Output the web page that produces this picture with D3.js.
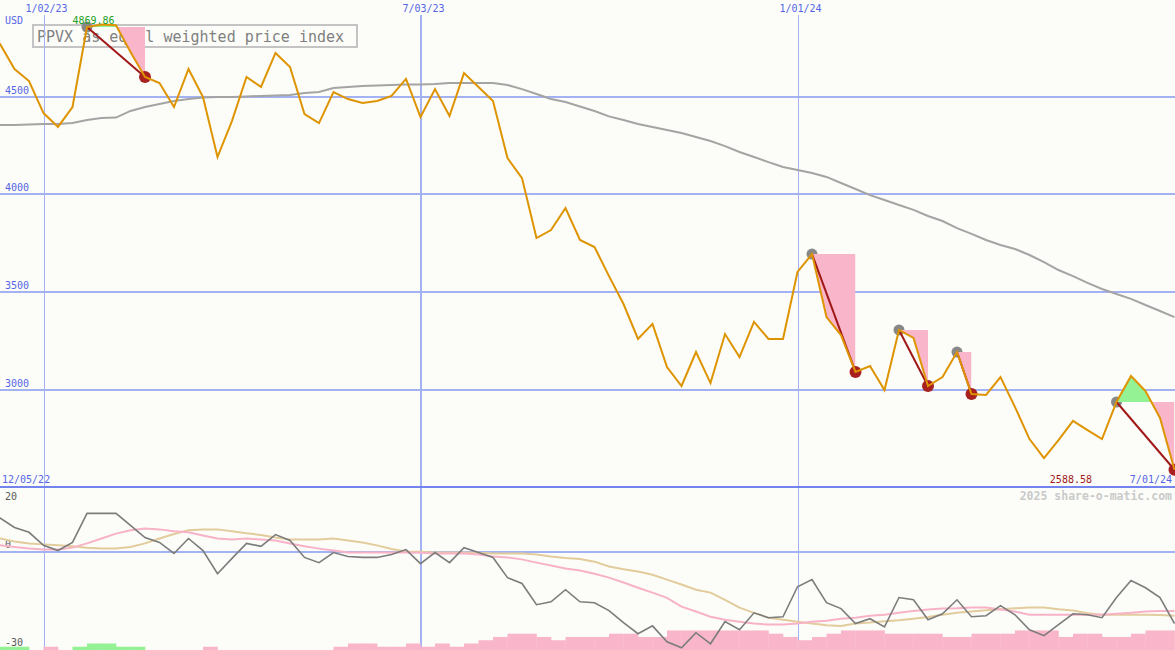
<!DOCTYPE html>
<html><head><meta charset="utf-8">
<script src="https://cdn.jsdelivr.net/npm/d3@7"></script>
<style>
html,body{margin:0;padding:0;background:#fcfdf9;overflow:hidden}
svg{display:block}
text{font-family:"DejaVu Sans Mono","Liberation Mono",monospace}
</style></head><body>
<svg id="c" width="1175" height="650"></svg>
<script>
// ---------- data ----------
const startDate = "2022-12-05";
const endDate = "2024-07-01";
const price = [4840,4770,4642,4580,4416,4345,4447,4857,4869.86,4866,
  4729,4601,4570,4447,4642,4498,4191,4376,4601,4550,
  4724,4652,4411,4365,4524,4488,4468,4478,4504,4591,
  4396,4539,4401,4621,4550,4478,4186,4083,3776,3817,
  3930,3766,3730,3581,3438,3259,3336,3115,3018,3192,
  3033,3284,3166,3346,3259,3259,3602,3694,3371,3279,
  3090,3120,2997,3305,3264,3018,3064,3192,2977,2972,
  3064,2910,2746,2649,2741,2839,2792,2746,2936,3069,
  2992,2854,2588.58];
const movingAvg = [4355,4355,4355,4358,4360,4360,4365,4381,4391,4393,
  4427,4447,4463,4478,4488,4496,4498,4498,4501,4504,
  4506,4509,4519,4524,4545,4550,4555,4557,4560,4563,
  4563,4565,4570,4570,4570,4570,4560,4539,4514,4488,
  4473,4450,4427,4399,4381,4360,4345,4329,4314,4294,
  4273,4247,4217,4191,4165,4140,4124,4109,4089,4058,
  4027,3996,3971,3945,3920,3889,3863,3827,3797,3766,
  3740,3720,3689,3653,3612,3581,3546,3515,3489,3464,
  3433,3402,3371];
const oscillator = [13,10.5,7.6,6.1,2.1,0.5,3.0,11.9,11.9,11.9,
  8.2,4.5,3.0,-0.4,4.2,0.5,-6.6,-1.9,2.7,1.8,
  5.4,3.6,-1.6,-3.2,-0.1,-1.3,-1.6,-1.6,-0.7,0.8,
  -3.5,-0.1,-3.2,1.4,-0.1,-1.6,-7.8,-9.6,-16.1,-15.2,
  -11.5,-15.2,-15.5,-17.9,-21.6,-25.0,-22.6,-27.5,-29.3,-24.7,
  -28.1,-21.3,-23.8,-18.6,-20.1,-19.8,-10.6,-8.4,-15.5,-17.3,
  -21.9,-20.4,-22.9,-13.9,-14.6,-20.7,-18.9,-14.6,-19.8,-19.5,
  -16.4,-19.2,-23.8,-25.6,-22.2,-18.9,-19.2,-20.1,-13.9,-8.7,
  -10.9,-13.9,-21.9];
const oscPink = [2.4,2.1,1.6,1.1,0.8,0.8,1.4,2.7,4.2,5.7,
  6.7,7.3,7.0,6.4,6.1,5.1,4.2,3.9,4.2,3.9,
  3.6,2.7,1.8,1.1,0.5,-0.1,-0.1,-0.1,-0.1,-0.1,
  -0.2,-0.4,-0.4,-0.4,-0.7,-1.3,-1.6,-2.2,-3.2,-4.1,
  -5.0,-5.6,-6.6,-7.8,-9.3,-10.9,-12.4,-14.0,-16.7,-18.2,
  -19.8,-20.7,-21.3,-21.9,-22.2,-22.2,-21.9,-21.3,-21.0,-20.4,
  -20.1,-19.5,-19.2,-18.6,-18.0,-17.6,-17.3,-17.2,-17.0,-17.0,
  -17.6,-18.2,-19.2,-19.2,-19.2,-19.2,-19.2,-19.2,-18.9,-18.6,
  -18.2,-18.0,-18.0];
const oscTan = [4.5,4.2,3.3,2.7,2.4,2.1,1.8,1.4,1.1,1.1,
  1.6,2.7,4.2,5.6,6.7,7.0,7.0,6.4,5.8,5.3,
  4.5,3.9,3.9,3.9,4.2,3.6,3.0,2.1,1.0,0.2,
  0.1,-0.1,-0.1,-0.1,-0.2,-0.4,-0.4,-0.4,-0.7,-1.3,
  -1.8,-2.1,-2.9,-4.4,-5.2,-5.9,-6.9,-8.4,-9.9,-11.5,
  -12.4,-14.6,-17.0,-18.6,-20.1,-20.7,-21.3,-21.9,-22.4,-22.6,
  -21.9,-21.6,-21.2,-20.9,-20.4,-19.9,-19.2,-18.6,-18.2,-17.8,
  -17.5,-17.2,-17.0,-17.0,-17.5,-17.9,-18.7,-19.2,-19.2,-19.2,
  -19.2,-19.3,-19.5];
const histogram = [1,1,1,0,-1,0,1,2,2,1,
  1,0,0,0,0,-1,0,0,0,0,
  0,0,0,0,-1,-2,-2,-1,-1,-2,
  -1,-2,-1,-2,-3,-4,-5,-5,-4,-3,
  -4,-4,-4,-5,-5,-4,-4,-6,-6,-6,
  -6,-6,-6,-6,-5,-4,-3,-4,-5,-6,
  -6,-6,-5,-5,-5,-5,-4,-4,-5,-5,
  -5,-6,-6,-6,-4,-5,-5,-4,-4,-5,
  -6,-6,-6];
const drawdownPeaks = [7,57,63,67,78];
const drawdownTroughs = [11,60,65,68,82];
const xTickDates = ["2023-01-02","2023-07-03","2024-01-01"];
const xTickLabels = ["1/02/23","7/03/23","1/01/24"];
const yTicks = [4500,4000,3500,3000];
const lowerTicks = [20,0,-30];
const titleText = "PPVX as equal weighted price index";
const unitText = "USD";
const creditText = "2025 share-o-matic.com";

// ---------- setup ----------
const W = 1175, H = 650;
const parse = d3.utcParse("%Y-%m-%d");
const dates = d3.utcMonday.range(parse(startDate), d3.utcDay.offset(parse(endDate), 1));
const x = d3.scaleUtc().domain([dates[0], dates[dates.length-1]]).range([-14.5, 1174.5]);
const y = d3.scaleLinear().domain([3000, 4500]).range([389.5, 96.7]);
const yL = d3.scaleLinear().domain([-30, 20]).range([650, 487]);
const fmtNum = d3.format(".2f");
const fmtDate = d3.utcFormat("%-m/%d/%y");

const svg = d3.select("#c");
const defs = svg.append("defs");
const BLUE_GRID = "#a2b2f2", BLUE_TXT = "#5565e6";
const vgx = d => {
  const w = parse(d).getUTCMonth() === 6 ? 2 : 1;
  return w === 1 ? Math.round(x(parse(d))) + 0.5 : Math.round(x(parse(d)));
};

// title box (under marks)
svg.append("rect").attr("x", 33).attr("y", 25).attr("width", 324).attr("height", 22)
  .attr("fill", "none").attr("stroke", "#c4c4c4").attr("stroke-width", 2);
svg.append("text").attr("x", 37).attr("y", 42).attr("font-size", 15)
  .attr("fill", "#808080").text(titleText);

// horizontal grid
svg.selectAll("line.hg").data(yTicks).join("line")
  .attr("x1", 0).attr("x2", W).attr("y1", d => Math.round(y(d))).attr("y2", d => Math.round(y(d)))
  .attr("stroke", BLUE_GRID).attr("stroke-width", 2);
svg.selectAll("text.hl").data(yTicks).join("text")
  .attr("x", 5).attr("y", d => y(d) - 3).attr("font-size", 10).attr("fill", BLUE_TXT)
  .text(d => d);
svg.append("text").attr("x", 5).attr("y", 24).attr("font-size", 10).attr("fill", BLUE_TXT).text(unitText);

// vertical grid
svg.selectAll("line.vg").data(xTickDates).join("line")
  .attr("x1", vgx).attr("x2", vgx)
  .attr("y1", 15).attr("y2", H)
  .attr("stroke", BLUE_GRID).attr("stroke-width", d => parse(d).getUTCMonth() === 6 ? 2 : 1);
svg.selectAll("text.vl").data(xTickDates).join("text")
  .attr("x", d => x(parse(d)) + 3).attr("y", 12).attr("text-anchor", "middle")
  .attr("font-size", 10).attr("fill", BLUE_TXT)
  .text((d, i) => xTickLabels[i]);

// lower panel zero line and separator
svg.append("line").attr("x1", 0).attr("x2", W).attr("y1", Math.round(yL(0))).attr("y2", Math.round(yL(0)))
  .attr("stroke", BLUE_GRID).attr("stroke-width", 2);
svg.append("line").attr("x1", 0).attr("x2", W).attr("y1", 487).attr("y2", 487)
  .attr("stroke", "#7484ee").attr("stroke-width", 2);
svg.selectAll("text.ll").data(lowerTicks).join("text")
  .attr("x", 5).attr("y", (d, i) => i === 0 ? yL(d) + 13 : yL(d) - 4)
  .attr("font-size", 10).attr("fill", "#5a5a5a").text(d => d);

// histogram bars
const step = x(dates[1]) - x(dates[0]);
svg.selectAll("rect.hb").data(histogram.map((v, i) => ({v, i})).filter(d => d.v !== 0)).join("rect")
  .attr("x", d => x(dates[d.i])).attr("width", step + 0.3)
  .attr("y", d => yL(-30 + Math.abs(d.v))).attr("height", d => yL(-30) - yL(-30 + Math.abs(d.v)))
  .attr("fill", d => d.v > 0 ? "#94f294" : "#f9b6ca");

// lower lines
const lineL = arr => d3.line().x((d, i) => x(dates[i])).y(d => yL(d))(arr);
svg.append("path").attr("d", lineL(oscTan)).attr("fill", "none").attr("stroke", "#e2cc9c").attr("stroke-width", 2);
svg.append("path").attr("d", lineL(oscPink)).attr("fill", "none").attr("stroke", "#f8b2c8").attr("stroke-width", 2);
svg.append("path").attr("d", lineL(oscillator)).attr("fill", "none").attr("stroke", "#7c7c7c").attr("stroke-width", 1.6);

// moving average
const lineM = d3.line().x((d, i) => x(dates[i])).y(d => y(d));
svg.append("path").attr("d", lineM(movingAvg)).attr("fill", "none").attr("stroke", "#a4a4a4").attr("stroke-width", 2);

// peak markers
svg.selectAll("circle.pk").data(drawdownPeaks).join("circle")
  .attr("cx", d => x(dates[d])).attr("cy", d => y(price[d])).attr("r", 5.5).attr("fill", "#888888");

// drawdown fills
drawdownPeaks.forEach((p, k) => {
  const t = drawdownTroughs[k];
  const lvl = y(price[p]);
  const x0 = x(dates[p]), x1 = x(dates[t]);
  const idx = d3.range(p, t + 1);
  const area = d3.area().x(i => x(dates[i])).y0(lvl).y1(i => y(price[i]));
  const cpP = "cpP" + k, cpG = "cpG" + k;
  defs.append("clipPath").attr("id", cpP).append("rect").attr("x", x0).attr("y", lvl).attr("width", x1 - x0).attr("height", 487 - lvl);
  defs.append("clipPath").attr("id", cpG).append("rect").attr("x", x0).attr("y", 0).attr("width", x1 - x0).attr("height", lvl);
  svg.append("path").attr("d", area(idx)).attr("fill", "#f9b6ca").attr("clip-path", `url(#${cpP})`);
  svg.append("path").attr("d", area(idx)).attr("fill", "#94f294").attr("clip-path", `url(#${cpG})`);
});

// connecting lines
svg.selectAll("line.dd").data(drawdownPeaks).join("line")
  .attr("x1", d => x(dates[d])).attr("y1", d => y(price[d]))
  .attr("x2", (d, k) => x(dates[drawdownTroughs[k]])).attr("y2", (d, k) => y(price[drawdownTroughs[k]]))
  .attr("stroke", "#a01818").attr("stroke-width", 2);
svg.selectAll("circle.tr").data(drawdownTroughs).join("circle")
  .attr("cx", d => x(dates[d])).attr("cy", d => y(price[d])).attr("r", 6).attr("fill", "#a82020");

// price line
svg.append("path").attr("d", lineM(price)).attr("fill", "none").attr("stroke", "#de9400").attr("stroke-width", 2);

// max / min labels
const iMax = d3.maxIndex(price), iMin = d3.minIndex(price);
svg.append("text").attr("x", x(dates[iMax]) - 8).attr("y", 24).attr("text-anchor", "middle")
  .attr("font-size", 10).attr("fill", "#22a022").text(fmtNum(price[iMax]));
svg.append("text").attr("x", 1092).attr("y", 483).attr("text-anchor", "end")
  .attr("font-size", 10).attr("fill", "#a01818").text(fmtNum(price[iMin]));

// range dates & credit
svg.append("text").attr("x", 2).attr("y", 483).attr("font-size", 10).attr("fill", BLUE_TXT).text(fmtDate(dates[0]));
svg.append("text").attr("x", 1172).attr("y", 483).attr("text-anchor", "end").attr("font-size", 10).attr("fill", BLUE_TXT).text(fmtDate(dates[dates.length-1]));
svg.append("text").attr("x", 1172).attr("y", 500).attr("text-anchor", "end").attr("font-size", 11.5)
  .attr("font-weight", "bold").attr("fill", "#cacaca").text(creditText);
</script>
</body></html>
